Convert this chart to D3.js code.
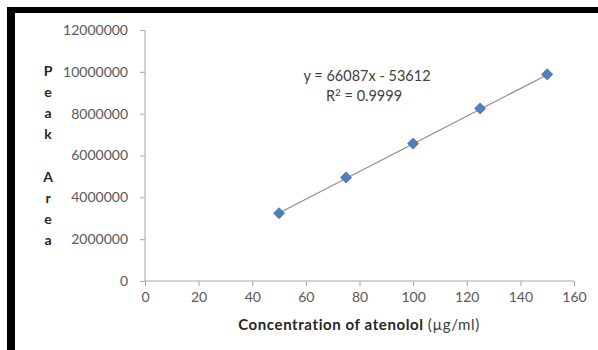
<!DOCTYPE html>
<html><head><meta charset="utf-8">
<script src="https://cdn.jsdelivr.net/npm/d3@7"></script>
<style>body{margin:0;background:#fff}svg{display:block}</style>
</head><body><svg id="c" width="598" height="350"></svg>
<script>
const concentrations = [50, 75, 100, 125, 150];
const peakAreas = [3240000, 4950000, 6570000, 8250000, 9880000];
const xTicks = [0, 20, 40, 60, 80, 100, 120, 140, 160];
const yTicks = [0, 2000000, 4000000, 6000000, 8000000, 10000000, 12000000];
const slope = 66087, intercept = -53612;
const eqLabel = "y = 66087x - 53612";
const yLabelLetters = ["P","e","a","k","","A","r","e","a"];

const svg = d3.select("#c");
const font = "Lato, 'Open Sans', sans-serif";
svg.append("rect").attr("x",7).attr("y",7).attr("width",591).attr("height",6).attr("fill","#000");
svg.append("rect").attr("x",7).attr("y",7).attr("width",8).attr("height",343).attr("fill","#000");

const x = d3.scaleLinear().domain([0,160]).range([145,574]);
const y = d3.scaleLinear().domain([0,12000000]).range([281,30]);

const xAxis = svg.append("g").attr("transform","translate(0,281)")
  .call(d3.axisBottom(x).tickValues(xTicks).tickSize(5).tickPadding(6).tickFormat(d3.format("d")));
const yAxis = svg.append("g").attr("transform","translate(145,0)")
  .call(d3.axisLeft(y).tickValues(yTicks).tickSize(5).tickPadding(12).tickFormat(d3.format("d")));
[xAxis,yAxis].forEach(a=>{
  a.select(".domain").attr("stroke","#a6a6a6");
  a.selectAll(".tick line").attr("stroke","#a6a6a6");
  a.selectAll("text").attr("fill","#595959").attr("font-family",font).attr("font-size",14);
});
yAxis.select(".domain").attr("d","M-0,281V30");
xAxis.select(".domain").attr("d","M145,0H574");

// trendline
svg.append("line")
  .attr("x1",x(concentrations[0])).attr("y1",y(slope*concentrations[0]+intercept))
  .attr("x2",x(concentrations[4])).attr("y2",y(slope*concentrations[4]+intercept))
  .attr("stroke","#8c8c8c").attr("stroke-width",1.2);

const diamond = "M0,-5.5L5.5,0L0,5.5L-5.5,0Z";
svg.selectAll("path.pt").data(concentrations).join("path").attr("class","pt")
  .attr("d",diamond)
  .attr("transform",(d,i)=>`translate(${x(d)},${y(peakAreas[i])})`)
  .attr("fill","#4f81bd").attr("stroke","#3d6ea8").attr("stroke-width",0.8);

svg.append("text").attr("x",367).attr("y",81).attr("text-anchor","middle")
  .attr("font-family",font).attr("font-size",14.5).attr("fill","#404040").text(eqLabel);
const r2 = svg.append("text").attr("x",364).attr("y",101).attr("text-anchor","middle")
  .attr("font-family",font).attr("font-size",14.5).attr("fill","#404040");
r2.append("tspan").text("R");
r2.append("tspan").attr("dy",-5).attr("font-size",10).text("2");
r2.append("tspan").attr("dy",5).text(" = 0.9999");

yLabelLetters.forEach((l,i)=>{
  svg.append("text").attr("x",48).attr("y",76+i*21.1).attr("text-anchor","middle")
    .attr("font-family",font).attr("font-weight","bold").attr("font-size",14).attr("fill","#262626").text(l);
});

const xl = svg.append("text").attr("x",359).attr("y",330).attr("text-anchor","middle")
  .attr("font-family",font).attr("font-size",15).attr("letter-spacing",0.6).attr("fill","#262626");
xl.append("tspan").attr("font-weight","bold").text("Concentration of atenolol ");
xl.append("tspan").attr("fill","#404040").text("(µg/ml)");
</script></body></html>
